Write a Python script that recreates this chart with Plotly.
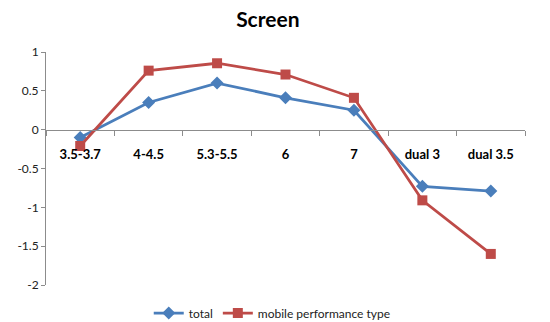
import plotly.graph_objects as go

# Screen size categories and the two series
categories = ["3.5-3.7", "4-4.5", "5.3-5.5", "6", "7", "dual 3", "dual 3.5"]
total = [-0.10, 0.35, 0.60, 0.41, 0.25, -0.73, -0.79]
mobile_performance = [-0.21, 0.76, 0.855, 0.71, 0.41, -0.91, -1.60]

y_tick_vals = [1, 0.5, 0, -0.5, -1, -1.5, -2]
y_tick_text = ["1", "0.5", "0", "-0.5", "-1", "-1.5", "-2"]

BLUE = "#4A7EBB"
RED = "#BE4B48"
FONT = "Lato, 'Open Sans', sans-serif"

fig = go.Figure()
fig.add_trace(go.Scatter(
    x=categories, y=total, name="total", mode="lines+markers",
    line=dict(color=BLUE, width=2.75),
    marker=dict(symbol="diamond", size=10, color=BLUE),
))
fig.add_trace(go.Scatter(
    x=categories, y=mobile_performance, name="mobile performance type",
    mode="lines+markers",
    line=dict(color=RED, width=2.75),
    marker=dict(symbol="square", size=10, color=RED),
))

fig.update_layout(
    width=550, height=322,
    margin=dict(l=46, r=25, t=52, b=37, autoexpand=False),
    paper_bgcolor="white", plot_bgcolor="white",
    font=dict(family=FONT, size=12, color="#222"),
    title=dict(text="<b>Screen</b>", x=0.487, xanchor="center",
               y=1 - 20 / 322, yanchor="middle", yref="container",
               font=dict(size=21, color="#000", family=FONT)),
    showlegend=True,
    legend=dict(orientation="h", x=0.495, xanchor="center", xref="container",
                y=9 / 322, yanchor="middle", yref="container",
                font=dict(size=12, color="#222"),
                tracegroupgap=0),
    xaxis=dict(
        type="category", range=[-0.5, 6.5],
        anchor="free", position=2 / 3,
        showline=True, linecolor="#8c8c8c", linewidth=1,
        ticks="outside", tickson="boundaries", ticklen=5, tickcolor="#8c8c8c",
        tickfont=dict(size=13, color="#000", family=FONT, weight="bold"),
        ticklabelstandoff=13,
        showgrid=False, zeroline=False,
    ),
    yaxis=dict(
        range=[-2, 1], tickvals=y_tick_vals, ticktext=y_tick_text,
        showline=True, linecolor="#8c8c8c", linewidth=1,
        ticks="outside", ticklen=4, tickcolor="#8c8c8c",
        tickfont=dict(size=12, color="#222"),
        showgrid=False, zeroline=False,
    ),
)

fig.write_html("out.html")
